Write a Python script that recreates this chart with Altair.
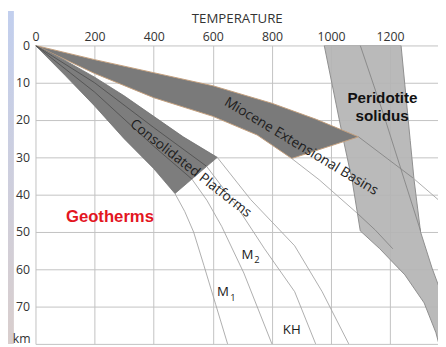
import altair as alt
import pandas as pd

# ---------------- axis ticks ----------------
x_ticks = [0, 200, 400, 600, 800, 1000, 1200]
y_ticks = [0, 10, 20, 30, 40, 50, 60, 70]

# ---------------- shaded fields (temperature degC, depth km) ----------------
cons_T = [0, 100, 200, 300, 400, 500, 615, 472, 400, 300, 200, 100, 0]
cons_D = [0, 4, 8.5, 13.5, 19, 24.5, 30, 39.7, 33, 25, 16.2, 8, 0]

mio_T = [0, 200, 400, 600, 800, 950, 1093, 867, 750, 600, 400, 200, 0]
mio_D = [0, 3.8, 7.3, 10.8, 15.5, 19.8, 24.5, 30.3, 24, 19, 14, 7.5, 0]

sol_T = [977, 1041, 1071, 1099, 1165, 1250, 1315, 1355, 1365, 1450, 1362, 1342, 1303, 1281, 1268, 1237, 977]
sol_D = [0, 25, 36, 49.7, 54.5, 61.5, 69, 77, 80, 80, 64, 59.7, 50, 36, 25.5, 0, 0]

# ---------------- thin geotherm curves ----------------
lineA_T = [472, 505, 535, 570, 610, 650]
lineA_D = [39.7, 44.5, 50, 59, 69.5, 80]
lineB_in_T = [0, 200, 400, 529]
lineB_in_D = [0, 12.5, 27, 35.8]
lineB_T = [529, 580, 630, 705, 800]
lineB_D = [35.8, 41.5, 48.5, 61, 80]
lineC_in_T = [0, 200, 400, 579]
lineC_in_D = [0, 10, 22, 32.4]
lineC_T = [579, 680, 775, 877, 948]
lineC_D = [32.4, 43, 54.5, 66, 80]
lineD_T = [615, 728, 877, 970, 1060]
lineD_D = [30, 41.3, 53.7, 66, 80]
lineE_T = [867, 960, 1089]
lineE_D = [30.3, 36, 45]
lineE_s_T = [1089, 1150, 1209]
lineE_s_D = [45, 49.5, 54.5]
lineF_s_T = [1093, 1190, 1277]
lineF_s_D = [24.5, 30.3, 35.5]
lineF_T = [1277, 1362]
lineF_D = [35.5, 41.3]
lineG_s_T = [1099, 1180, 1248, 1303]
lineG_s_D = [0, 19, 36, 49.7]

# ---------------- labels ----------------
band_text = ["Consolidated Platforms", "Miocene Extensional Basins"]
band_T = [525, 899]
band_D = [33, 27.1]
band_angle = [38, 31]

sol_text = ["Peridotite", "solidus"]
sol_lab_T = [1174, 1173]
sol_lab_D = [14.1, 19]

geo_text = ["Geotherms"]
geo_T = [252]
geo_D = [46]

curve_text = ["M", "M", "KH"]
curve_T = [634.6, 717.6, 867]
curve_D = [66.1, 56.1, 76.3]

sub_text = ["1", "2"]
sub_T = [667.8, 749]
sub_D = [67.6, 57.5]

unit_text = ["km"]
unit_T = [-47]
unit_D = [78.6]


def poly(T, D, name):
    return pd.DataFrame({"T": T, "D": D, "i": list(range(len(T))), "name": name})


lines_df = pd.concat([
    poly(lineA_T, lineA_D, "A").assign(kind="out"),
    poly(lineB_in_T, lineB_in_D, "Bin").assign(kind="in"),
    poly(lineB_T, lineB_D, "B").assign(kind="out"),
    poly(lineC_in_T, lineC_in_D, "Cin").assign(kind="in"),
    poly(lineC_T, lineC_D, "C").assign(kind="out"),
    poly(lineD_T, lineD_D, "D").assign(kind="out"),
    poly(lineE_T, lineE_D, "E").assign(kind="out"),
    poly(lineE_s_T, lineE_s_D, "Es").assign(kind="sol"),
    poly(lineF_s_T, lineF_s_D, "Fs").assign(kind="sol"),
    poly(lineF_T, lineF_D, "F").assign(kind="out"),
    poly(lineG_s_T, lineG_s_D, "Gs").assign(kind="sol"),
], ignore_index=True)

xs = alt.Scale(domain=[0, 1362], nice=False, zero=False)
ys = alt.Scale(domain=[0, 80], nice=False, zero=False, reverse=True)

x_axis = alt.Axis(orient="top", values=x_ticks, title="TEMPERATURE", format="d",
                  titleFont="Open Sans", titleFontSize=13.5, titleFontWeight="normal",
                  titleColor="#333333", titlePadding=5,
                  labelFont="Open Sans", labelFontSize=12.5, labelColor="#333333",
                  labelPadding=2, ticks=False, domain=False, labelFlush=False,
                  gridColor="#c2c2c2", gridWidth=1)
y_axis = alt.Axis(values=y_ticks + [80], title=None,
                  labelExpr="datum.value == 80 ? '' : datum.label",
                  labelFont="Open Sans", labelFontSize=12.5, labelColor="#333333",
                  labelPadding=6, ticks=False, domain=False, labelFlush=False,
                  gridColor="#c2c2c2", gridWidth=1)


def X():
    return alt.X("T:Q", scale=xs, axis=x_axis, title="TEMPERATURE")


def Y():
    return alt.Y("D:Q", scale=ys, axis=y_axis, title=None)


strip = alt.Chart(pd.DataFrame({"a": [0]})).mark_rect(
    color=alt.Gradient(gradient="linear",
                       stops=[alt.GradientStop(color="#c2cfee", offset=0),
                              alt.GradientStop(color="#d9cecd", offset=1)],
                       x1=0, x2=0, y1=0, y2=1)
).encode(x=alt.value(-28), x2=alt.value(-22), y=alt.value(-35), y2=alt.value(304))


def band(T, D, name, fill, stroke, sw, opacity=1.0):
    return alt.Chart(poly(T, D, name)).mark_line(
        fill=fill, stroke=stroke, strokeWidth=sw, fillOpacity=opacity, clip=True
    ).encode(x=X(), y=Y(), order="i:Q")


sol_band = band(sol_T, sol_D, "sol", "#b4b4b4", "#8e8e8e", 1, 0.92)
mio_band = band(mio_T, mio_D, "mio", "#7a7a7a", "#c39f7d", 1)
cons_band = band(cons_T, cons_D, "cons", "#7d7d7d", "#727272", 0.8)

thin = alt.Chart(lines_df).mark_line(strokeWidth=0.9, clip=True).encode(
    x=X(), y=Y(),
    order="i:Q",
    detail="name:N",
    color=alt.Color("kind:N", scale=alt.Scale(domain=["out", "in", "sol"],
                                               range=["#a4a4a4", "#505050", "#858585"]),
                    legend=None),
)

band_lab = alt.Chart(pd.DataFrame({"t": band_text, "T": band_T, "D": band_D, "a": band_angle})).mark_text(
    font="Open Sans", fontSize=14, color="#1e1e1e"
).encode(x=X(), y=Y(), text="t:N", angle=alt.Angle("a:Q", scale=None))

sol_lab = alt.Chart(pd.DataFrame({"t": sol_text, "T": sol_lab_T, "D": sol_lab_D})).mark_text(
    font="Liberation Sans", fontSize=15.5, fontWeight="bold", color="#111111"
).encode(x=X(), y=Y(), text="t:N")

geo_lab = alt.Chart(pd.DataFrame({"t": geo_text, "T": geo_T, "D": geo_D})).mark_text(
    font="Liberation Sans", fontSize=17, fontWeight="bold", color="#e3161f"
).encode(x=X(), y=Y(), text="t:N")

curve_lab = alt.Chart(pd.DataFrame({"t": curve_text, "T": curve_T, "D": curve_D})).mark_text(
    font="Open Sans", fontSize=13.5, color="#1a1a1a"
).encode(x=X(), y=Y(), text="t:N")

sub_lab = alt.Chart(pd.DataFrame({"t": sub_text, "T": sub_T, "D": sub_D})).mark_text(
    font="Open Sans", fontSize=9.5, color="#1a1a1a"
).encode(x=X(), y=Y(), text="t:N")

unit_lab = alt.Chart(pd.DataFrame({"t": unit_text, "T": unit_T, "D": unit_D})).mark_text(
    font="Open Sans", fontSize=12.5, color="#333333"
).encode(x=X(), y=Y(), text="t:N")

chart = alt.layer(
    strip, sol_band, mio_band, cons_band, thin,
    band_lab, sol_lab, geo_lab, curve_lab, sub_lab, unit_lab
).properties(
    width=410, height=304,
    padding={"left": 28, "top": 35, "right": 0, "bottom": 0},
    autosize=alt.AutoSizeParams(type="none"),
    background="#ffffff",
).configure_view(stroke=None)

chart.save("out.html", embed_options={"renderer": "svg", "actions": False})
